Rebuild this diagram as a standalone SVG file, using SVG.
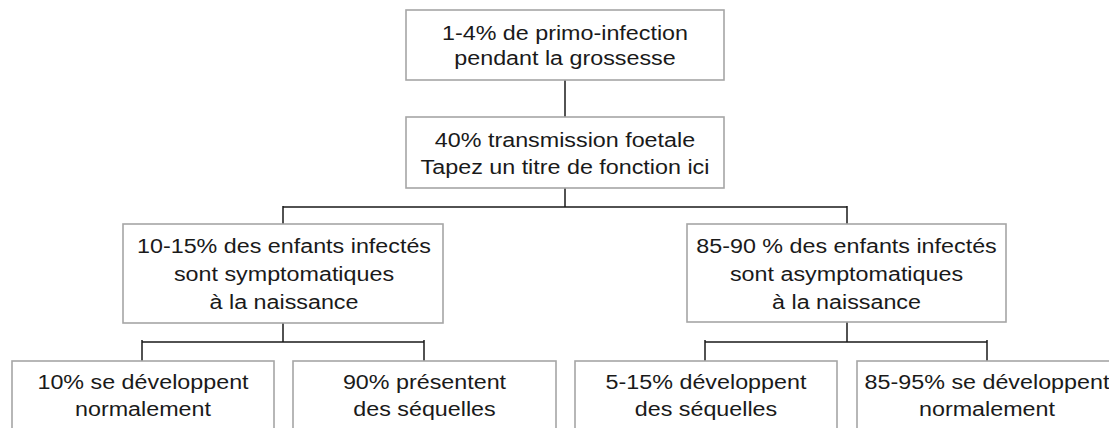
<svg xmlns="http://www.w3.org/2000/svg" width="1109" height="428" viewBox="0 0 1109 428">
<style>
.box{fill:#fff;stroke:#a6a6a6;stroke-width:1.6}
.t{font-family:"Liberation Sans",Arial,sans-serif;font-size:21px;fill:#1a1a1a;text-anchor:middle}
.c{stroke:#1a1a1a;stroke-width:1.5;fill:none}
</style>
<rect width="1109" height="428" fill="#fff"/>
<g id="connectors">
<path class="c" d="M565 80V117"/>
<path class="c" d="M565 188V207M283 207H847M283 206V224M847 206V224"/>
<path class="c" d="M283 323V342M142 342H424M142 340V361M424 340V361"/>
<path class="c" d="M847 322V342M705 342H987M705 340V361M987 340V361"/>
</g>
<g id="n1"><rect class="box" x="406" y="10" width="318" height="70"/>
<g transform="translate(565 0) scale(1.11 1)">
<text class="t" x="0" y="40">1-4% de primo-infection</text>
<text class="t" x="0" y="65">pendant la grossesse</text></g></g>
<g id="n2"><rect class="box" x="406" y="117" width="318" height="71"/>
<g transform="translate(565 0) scale(1.11 1)">
<text class="t" x="0" y="147">40% transmission foetale</text>
<text class="t" x="0" y="174">Tapez un titre de fonction ici</text></g></g>
<g id="n3"><rect class="box" x="123" y="224" width="320" height="99"/>
<g transform="translate(284 0) scale(1.11 1)">
<text class="t" x="0" y="253">10-15% des enfants infectés</text>
<text class="t" x="0" y="281">sont symptomatiques</text>
<text class="t" x="0" y="309">à la naissance</text></g></g>
<g id="n4"><rect class="box" x="687" y="224" width="319" height="98"/>
<g transform="translate(846.5 0) scale(1.11 1)">
<text class="t" x="0" y="253">85-90 % des enfants infectés</text>
<text class="t" x="0" y="281">sont asymptomatiques</text>
<text class="t" x="0" y="309">à la naissance</text></g></g>
<g id="n5"><rect class="box" x="12" y="361" width="262" height="100"/>
<g transform="translate(143 0) scale(1.11 1)">
<text class="t" x="0" y="389">10% se développent</text>
<text class="t" x="0" y="416">normalement</text></g></g>
<g id="n6"><rect class="box" x="293" y="361" width="263" height="100"/>
<g transform="translate(424.5 0) scale(1.11 1)">
<text class="t" x="0" y="389">90% présentent</text>
<text class="t" x="0" y="416">des séquelles</text></g></g>
<g id="n7"><rect class="box" x="575" y="361" width="262" height="100"/>
<g transform="translate(706 0) scale(1.11 1)">
<text class="t" x="0" y="389">5-15% développent</text>
<text class="t" x="0" y="416">des séquelles</text></g></g>
<g id="n8"><rect class="box" x="857" y="361" width="262" height="100"/>
<g transform="translate(987 0) scale(1.11 1)">
<text class="t" x="0" y="389">85-95% se développent</text>
<text class="t" x="0" y="416">normalement</text></g></g>
</svg>
